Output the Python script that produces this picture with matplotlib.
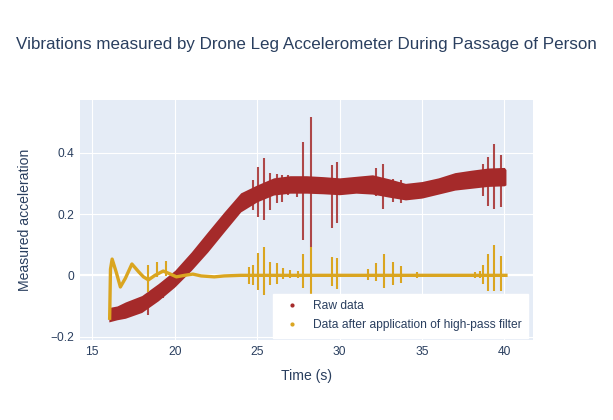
import matplotlib
matplotlib.use("Agg")
from matplotlib import pyplot as plt
from matplotlib.lines import Line2D

# raw data band (time, lower edge, upper edge)
raw_t = [16.0, 16.5, 17, 18, 19, 20, 21, 22, 23, 24, 25, 26, 27, 28, 29, 30,
         31, 32, 33, 34, 35, 36, 37, 38, 39, 40, 40.1]
raw_lo = [-0.152, -0.145, -0.14, -0.121, -0.083, -0.038, 0.016, 0.076, 0.142,
          0.207, 0.24, 0.262, 0.268, 0.268, 0.266, 0.263, 0.268, 0.265, 0.255,
          0.246, 0.252, 0.265, 0.278, 0.284, 0.29, 0.292, 0.295]
raw_hi = [-0.105, -0.1, -0.087, -0.066, -0.027, 0.016, 0.076, 0.142, 0.207,
          0.269, 0.295, 0.318, 0.325, 0.325, 0.322, 0.318, 0.323, 0.328, 0.315,
          0.30, 0.306, 0.318, 0.335, 0.343, 0.35, 0.352, 0.345]

# spikes in the raw data
raw_spk_t = [18.4, 19.3, 24.73, 25.07, 25.44, 25.78, 26.19, 26.5, 26.9, 27.4,
             27.8, 28.27, 29.56, 29.87, 32.21, 32.66, 33.23, 33.73,
             38.73, 39.03, 39.39, 39.78]
raw_spk_lo = [-0.13, -0.075, 0.213, 0.191, 0.18, 0.213, 0.235, 0.24, 0.262, 0.255,
              0.115, 0.093, 0.153, 0.17, 0.26, 0.215, 0.24, 0.235,
              0.26, 0.226, 0.215, 0.222]
raw_spk_hi = [-0.08, -0.03, 0.31, 0.354, 0.382, 0.333, 0.33, 0.327, 0.327, 0.32,
              0.434, 0.517, 0.36, 0.37, 0.35, 0.363, 0.313, 0.31,
              0.363, 0.387, 0.43, 0.393]

# filtered signal (high-pass), baseline trace
flt_t = [16.05, 16.1, 16.2, 16.45, 16.7, 17.0, 17.4, 17.8, 18.1, 18.4, 18.8,
         19.3, 19.7, 20.1, 20.6, 21.1, 21.6, 22.4, 23.0, 24.0, 27.0, 30.0,
         35.0, 40.0, 40.1]
flt_y = [-0.14, 0.02, 0.053, 0.01, -0.038, -0.01, 0.037, 0.012, -0.005, -0.015,
         0.0, 0.014, 0.005, -0.005, 0.0, 0.004, -0.002, -0.005, -0.002, 0.0,
         0.0, 0.0, 0.0, 0.0, 0.0]

# spikes in the filtered signal
flt_spk_t = [18.4, 18.9, 19.45, 24.5, 24.73, 25.07, 25.44, 25.78, 26.19, 26.6,
             27.0, 27.45, 27.8, 28.27, 29.56, 29.87, 31.7, 32.21, 32.71, 33.23,
             33.73, 34.7, 38.2, 38.5, 38.73, 39.03, 39.39, 39.78]
flt_spk_lo = [-0.055, -0.005, -0.003, -0.027, -0.03, -0.048, -0.064, -0.03, -0.027,
              -0.012, -0.01, -0.008, -0.042, -0.06, -0.036, -0.045, -0.015, -0.02,
              -0.042, -0.03, -0.025, -0.008, -0.008, -0.01, -0.027, -0.052,
              -0.052, -0.052]
flt_spk_hi = [0.035, 0.045, 0.047, 0.028, 0.035, 0.074, 0.093, 0.044, 0.04, 0.025,
              0.018, 0.015, 0.07, 0.093, 0.059, 0.055, 0.02, 0.04, 0.07, 0.044,
              0.03, 0.01, 0.01, 0.015, 0.035, 0.07, 0.1, 0.063]

x_ticks = [15, 20, 25, 30, 35, 40]
y_ticks = [-0.2, 0, 0.2, 0.4]
y_ticklabels = ["\u22120.2", "0", "0.2", "0.4"]

raw_color = "#a52a2a"
flt_color = "#daa520"
text_color = "#2a3f5f"
bg_color = "#e5ecf6"

plt.rcParams["font.family"] = ["Liberation Sans", "DejaVu Sans"]

fig = plt.figure(figsize=(6.13, 4.2), dpi=100)
ax = fig.add_axes([80 / 613, 80 / 420, 453.3 / 613, 240 / 420])
ax.set_facecolor(bg_color)
for s in ax.spines.values():
    s.set_visible(False)

ax.set_xlim(14.25, 41.76)
ax.set_ylim(-0.211, 0.572)
ax.set_xticks(x_ticks)
ax.set_xticklabels([str(v) for v in x_ticks])
ax.set_yticks(y_ticks)
ax.set_yticklabels(y_ticklabels)
ax.tick_params(length=0, labelsize=8.64, colors=text_color, pad=4)
ax.grid(True, color="white", linewidth=0.8)
ax.axhline(0, color="white", linewidth=1.6, zorder=0.9)
ax.set_axisbelow(True)

# raw data
ax.fill_between(raw_t, raw_lo, raw_hi, color=raw_color, linewidth=0, zorder=2)
ax.vlines(raw_spk_t, raw_spk_lo, raw_spk_hi, color=raw_color, linewidth=1.5,
          alpha=0.85, zorder=2)

# filtered data
ax.plot(flt_t, flt_y, color=flt_color, linewidth=2.4, zorder=3,
        solid_joinstyle="round")
ax.vlines(flt_spk_t, flt_spk_lo, flt_spk_hi, color=flt_color, linewidth=1.5,
          zorder=3)

handles = [
    Line2D([], [], linestyle="none", marker="o", markersize=2, color=raw_color),
    Line2D([], [], linestyle="none", marker="o", markersize=2, color=flt_color),
]
leg = ax.legend(handles, ["Raw data", "Data after application of high-pass filter"],
                loc="lower left", bbox_to_anchor=(0.425, 0.008),
                frameon=True, fancybox=False, framealpha=1, edgecolor="white",
                fontsize=8.64, labelcolor=text_color, borderpad=0.55,
                handlelength=2.1, handletextpad=0.7, labelspacing=0.6,
                borderaxespad=0)
leg.set_zorder(10)

fig.text(0.5, 1 - 45 / 420, "Vibrations measured by Drone Leg Accelerometer During Passage of Person",
         ha="center", va="center", fontsize=12.24, color=text_color)
fig.text(306.6 / 613, 1 - 376 / 420, "Time (s)", ha="center", va="center",
         fontsize=10.08, color=text_color)
fig.text(25 / 613, 1 - 220 / 420, "Measured acceleration", ha="center", va="center",
         rotation=90, fontsize=10.08, color=text_color)

fig.savefig("out.png", dpi=100, facecolor="white")
